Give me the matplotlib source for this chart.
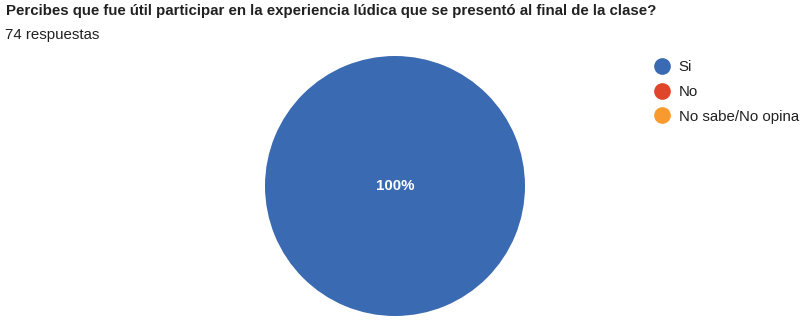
import matplotlib.pyplot as plt
from matplotlib.lines import Line2D

plt.rcParams["font.family"] = ["Liberation Sans", "DejaVu Sans"]

title = "Percibes que fue útil participar en la experiencia lúdica que se presentó al final de la clase?"
subtitle = "74 respuestas"
labels = ["Si", "No", "No sabe/No opina"]
counts = [74, 0, 0]
colors = ["#3a6ab2", "#e0452b", "#f99a2e"]

W, H = 804, 323
fig = plt.figure(figsize=(W / 100, H / 100), dpi=100, facecolor="white")

fig.text(6 / W, 1 - 4 / H, title, fontsize=10.8, fontweight="bold", color="#212121",
         ha="left", va="top")
fig.text(5 / W, 1 - 28 / H, subtitle, fontsize=10.8, color="#212121", ha="left", va="top")

# pie: center (395,186), radius 130 px
cx, cy, r = 395, 186, 130
ax = fig.add_axes([(cx - r) / W, 1 - (cy + r) / H, 2 * r / W, 2 * r / H])


def fmt(p):
    return "%d%%" % round(p) if p > 0 else ""


wedges, texts, autotexts = ax.pie(counts, colors=colors, startangle=90, counterclock=False,
                                  autopct=fmt, pctdistance=0.0,
                                  textprops=dict(color="white", fontsize=10.8, fontweight="bold"),
                                  wedgeprops=dict(linewidth=0))
ax.set_xlim(-1, 1)
ax.set_ylim(-1, 1)
ax.set_aspect("equal")
ax.axis("off")

handles = [Line2D([], [], marker="o", linestyle="none", markersize=11,
                  markerfacecolor=c, markeredgecolor=c) for c in colors]
fig.legend(handles, labels, loc="upper left", bbox_to_anchor=(645 / W, 1 - 54 / H),
           frameon=False, fontsize=10.8, handletextpad=0.35, labelspacing=0.72,
           borderaxespad=0, handlelength=1.5, labelcolor="#212121")

fig.savefig("out.png", dpi=100)
